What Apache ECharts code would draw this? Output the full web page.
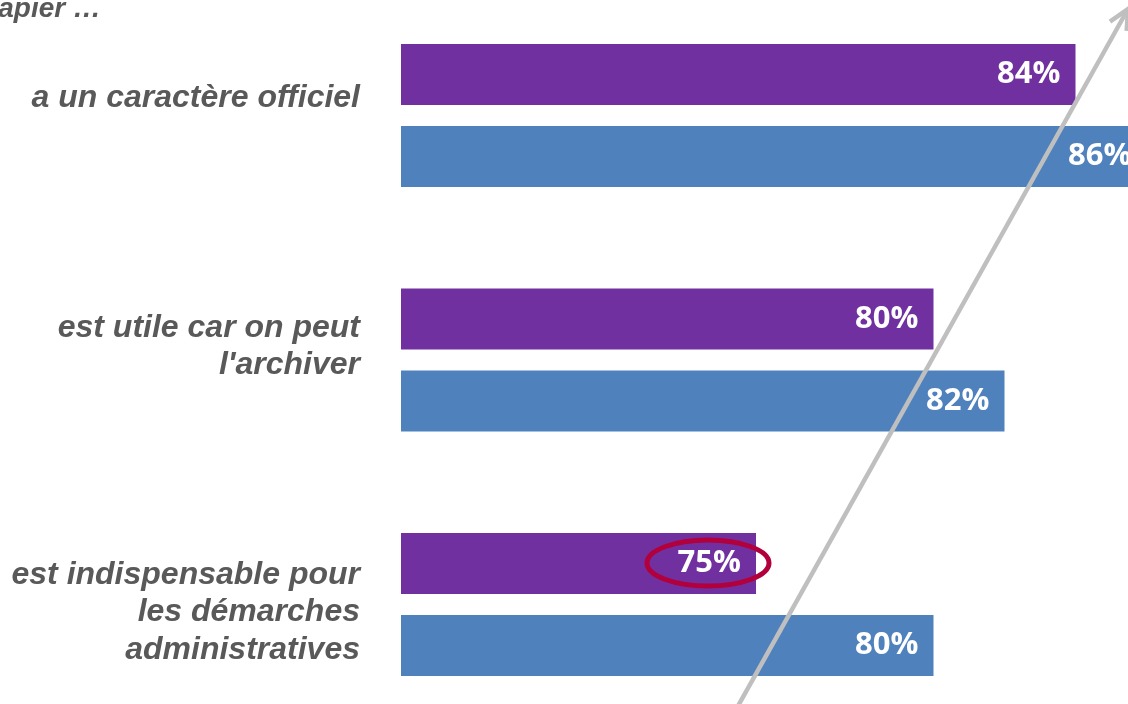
<!DOCTYPE html>
<html>
<head>
<meta charset="utf-8">
<script src="https://cdn.jsdelivr.net/npm/echarts@6/dist/echarts.min.js"></script>
<style>
  html, body { margin: 0; padding: 0; background: #fff; }
  #chart { width: 1128px; height: 704px; }
</style>
</head>
<body>
<div id="chart"></div>
<script>
// data
const categories = [
  "a un caractère officiel",
  "est utile car on peut\nl'archiver",
  "est indispensable pour\nles démarches\nadministratives",
];
const seriesNames = ["série 1", "série 2"];
const purpleValues = [84, 80, 75];
const blueValues = [86, 82, 80];
// the source labels aren't centred on the bars: spacer above (+) or below (-)
const labelShift = [-35, -27, 16];

const axisMin = 65;
const axisMax = 90;
const pxPerUnit = 35.5;

const chart = echarts.init(document.getElementById("chart"));

// arrow geometry (decoration)
const tail = [738, 706];
const tip = [1128, 9];
const ang = Math.atan2(tail[1] - tip[1], tail[0] - tip[0]);
const armLen = 22;
const arm1 = [tip[0] + armLen * Math.cos(ang + 0.45), tip[1] + armLen * Math.sin(ang + 0.45)];
const arm2 = [tip[0] + armLen * Math.cos(ang - 0.45), tip[1] + armLen * Math.sin(ang - 0.45)];

const labelFont = {
  color: "#fff",
  fontFamily: "Open Sans",
  fontWeight: "bold",
  fontSize: 31,
};

const rich = { t: { lineHeight: 37.5 } };
labelShift.forEach((s, i) => {
  rich["s" + i] = { fontSize: 1, lineHeight: Math.abs(s) };
});

function fmtLabel(value, index) {
  const body = value.split("\n").map((l) => "{t|" + l + "}").join("\n");
  const sp = "{s" + index + "| }";
  return labelShift[index] < 0 ? body + "\n" + sp : sp + "\n" + body;
}

chart.setOption({
  animation: false,
  grid: {
    left: 401,
    top: -6.75,
    height: 733.5,
    width: (axisMax - axisMin) * pxPerUnit,
    outerBoundsMode: "none",
    containLabel: false,
  },
  xAxis: {
    type: "value",
    min: axisMin,
    max: axisMax,
    show: false,
  },
  yAxis: {
    type: "category",
    inverse: true,
    data: categories,
    axisLine: { show: false },
    axisTick: { show: false },
    axisLabel: {
      margin: 41,
      color: "#595959",
      fontFamily: "Liberation Sans",
      fontStyle: "italic",
      fontWeight: "bold",
      fontSize: 32,
      align: "right",
      formatter: fmtLabel,
      rich: rich,
    },
  },
  series: [
    {
      name: seriesNames[0],
      type: "bar",
      data: purpleValues,
      barGap: "34%",
      barCategoryGap: "41.5%",
      itemStyle: { color: "#7030a0" },
      label: {
        show: true,
        position: "insideRight",
        distance: 15,
        formatter: "{c}%",
        ...labelFont,
      },
    },
    {
      name: seriesNames[1],
      type: "bar",
      data: blueValues,
      barGap: "34%",
      barCategoryGap: "41.5%",
      itemStyle: { color: "#4f81bd" },
      label: {
        show: true,
        position: "insideRight",
        distance: 15,
        formatter: "{c}%",
        ...labelFont,
      },
    },
  ],
  graphic: [
    {
      type: "text",
      x: 101,
      y: 23,
      style: {
        text: "Le papier …",
        align: "right",
        verticalAlign: "bottom",
        fill: "#595959",
        fontFamily: "Liberation Sans",
        fontStyle: "italic",
        fontWeight: "bold",
        fontSize: 28,
      },
    },
    {
      type: "polyline",
      z: 100,
      shape: { points: [tail, tip] },
      style: { stroke: "#bfbfbf", lineWidth: 4.5, fill: null },
    },
    {
      type: "polyline",
      z: 100,
      shape: { points: [arm1, tip, arm2] },
      style: { stroke: "#bfbfbf", lineWidth: 4.5, fill: null, lineJoin: "miter" },
    },
    {
      type: "ellipse",
      z: 100,
      shape: { cx: 708, cy: 563, rx: 61, ry: 23 },
      style: { stroke: "#b2003c", lineWidth: 5, fill: null },
    },
  ],
});

window.addEventListener("resize", () => chart.resize());
</script>
</body>
</html>
